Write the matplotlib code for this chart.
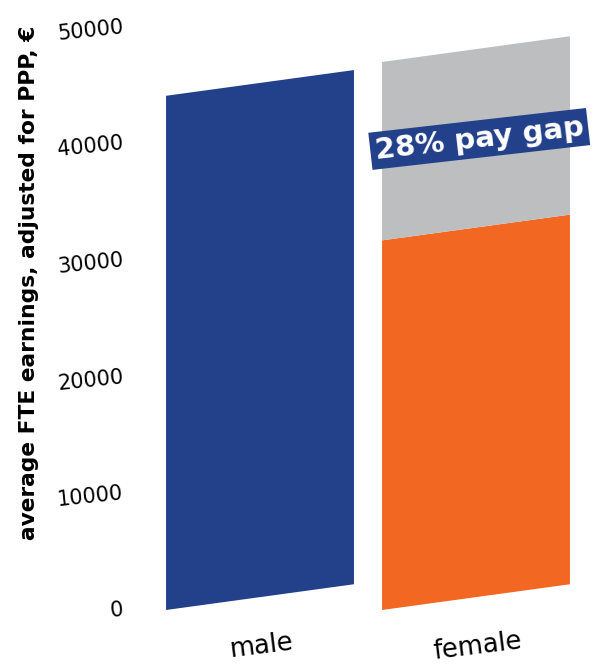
import numpy as np
import matplotlib
matplotlib.use("Agg")
import matplotlib.pyplot as plt
from matplotlib.transforms import Affine2D

# average full-time-equivalent earnings, PPP adjusted (EUR)
groups = ["male", "female"]
male_pay = 44100
female_pay = 31700
female_ref = 47000          # grey reference bar behind the female bar
gap_label = "28% pay gap"
yticks = [0, 10000, 20000, 30000, 40000, 50000]

NAVY = "#23408B"
ORANGE = "#F26722"
GREY = "#BCBEC0"

W, H = 601, 666
fig = plt.figure(figsize=(W / 100, H / 100), dpi=100)
# axes box in pixels: x 140..601, baseline at 610 px from top, 50000 at 27 px
ax = fig.add_axes([140 / W, 56 / H, 461 / W, 583 / H])
ax.set_xlim(-0.5556, 1.5787)
ax.set_ylim(0, 50000)
for s in ax.spines.values():
    s.set_visible(False)

width = 0.87
bars = []
bars += ax.bar([0], [male_pay], width=width, color=NAVY)
bars += ax.bar([1], [female_pay], width=width, color=ORANGE)
bars += ax.bar([1], [female_ref - female_pay], bottom=[female_pay],
               width=width, color=GREY)

# slant every bar so its top and bottom rise to the right
k = 0.137
for b in bars:
    b.set_clip_on(False)
    xl = ax.transData.transform((b.get_x(), 0))[0]
    shear = Affine2D(np.array([[1, 0, 0], [k, 1, -k * xl], [0, 0, 1]]))
    b.set_transform(ax.transData + shear)

ax.text(1.015, 40400, gap_label, color="white", fontsize=21, fontweight="heavy",
        rotation=6.5, ha="center", va="center", rotation_mode="anchor",
        bbox=dict(boxstyle="square,pad=0.16", fc=NAVY, ec="none"))

ax.set_yticks(yticks)
ax.set_yticklabels([str(v) for v in yticks], fontsize=15, rotation=6,
                   ha="right", va="center", rotation_mode="anchor")
ax.tick_params(axis="y", length=0, pad=12)

ax.set_xticks([0, 1])
ax.set_xticklabels(groups, fontsize=18.5, rotation=7, ha="center",
                   rotation_mode="anchor")
ax.tick_params(axis="x", length=0, pad=17)

fig.text(29 / W, 1 - 283 / H, "average FTE earnings, adjusted for PPP, €",
         rotation=90, fontsize=15.7, fontweight="bold", ha="center", va="center")

fig.savefig("out.png", dpi=100)
